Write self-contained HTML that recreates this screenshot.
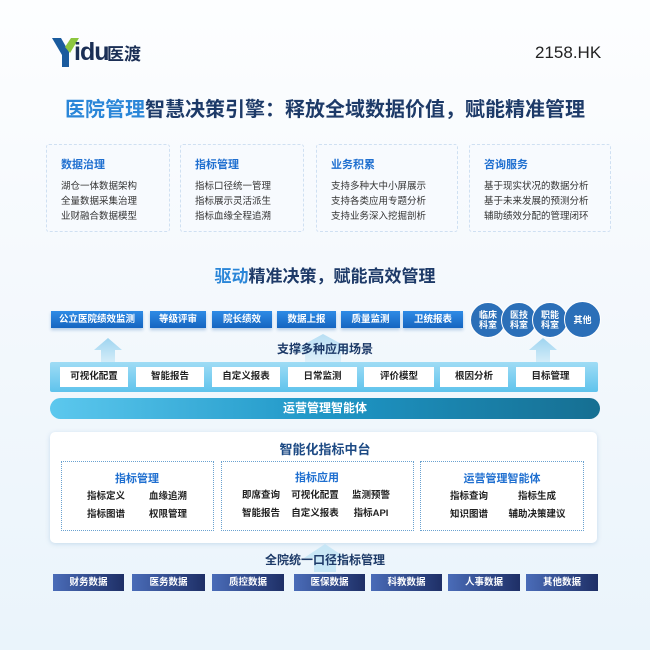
<!DOCTYPE html>
<html><head><meta charset="utf-8"><style>
*{margin:0;padding:0;box-sizing:border-box}
body{width:650px;height:650px;overflow:hidden;font-family:"Liberation Sans","Noto Sans CJK SC",sans-serif;background:linear-gradient(#fdfeff 0%,#f5f9fd 40%,#eaf4fb 100%);position:relative}
.a{position:absolute}
.c{position:absolute;text-align:center;white-space:nowrap}
.card{position:absolute;top:144px;height:88px;border:1px dashed #cfe0f2;background:#f7fafe;border-radius:3px}
.card h4{position:absolute;left:14px;top:11px;font-size:11px;color:#1f6fd0;font-weight:bold}
.card p{position:absolute;left:14px;font-size:9.5px;color:#333}
.tb{position:absolute;top:311px;height:17px;background:linear-gradient(#2f8be6,#1565c0);color:#fff;font-size:9.5px;font-weight:bold;text-align:center;line-height:17px;box-shadow:0 2px 3px rgba(30,100,180,.3)}
.ci{position:absolute;top:302px;width:36px;height:36px;border-radius:50%;background:#2b6fb8;border:1.5px solid #fff;color:#fff;font-size:9px;font-weight:bold;display:flex;align-items:center;justify-content:center;text-align:center;line-height:10px}
.wb{position:absolute;top:367px;height:20px;background:#fff;font-size:9.5px;color:#222;font-weight:bold;text-align:center;line-height:20px}
.sb{position:absolute;top:461px;height:70px;border:1px dotted #6aa2d0;background:#fff}
.it{position:absolute;font-size:9.5px;color:#222;font-weight:bold;transform:translateX(-50%);white-space:nowrap}
.bb{position:absolute;top:574px;height:17px;background:linear-gradient(90deg,#4a6cb8,#1e2f66);color:#fff;font-size:9.5px;font-weight:bold;text-align:center;line-height:17px}
</style></head><body>
<svg class="a" style="left:50px;top:36px" width="32" height="32"><polygon points="2,2 11,2 19,16 19,31 12,31 12,19" fill="#1a5b9e"/><polygon points="21,2 29,2 20,17 15,11" fill="#8cc63f"/></svg>
<div class="a" style="left:74px;top:36px;font-size:25px;font-weight:bold;color:#1b2f55;letter-spacing:-1px;line-height:32px">idu</div>
<div class="a" style="left:107px;top:44px;font-size:17px;font-weight:bold;color:#1b2f55;line-height:22px">医渡</div>
<div class="a" style="left:535px;top:43px;font-size:17px;color:#222;line-height:20px">2158.HK</div>
<div class="c" style="left:0;width:650px;top:97px;font-size:20px;font-weight:bold;color:#1d3a68;line-height:26px"><span style="color:#2a86d8">医院管理</span>智慧决策引擎：释放全域数据价值，赋能精准管理</div>

<div class="card" style="left:46px;width:124px"><h4>数据治理</h4><p style="top:33px">湖仓一体数据架构</p><p style="top:48px">全量数据采集治理</p><p style="top:63px">业财融合数据模型</p></div>
<div class="card" style="left:180px;width:124px"><h4>指标管理</h4><p style="top:33px">指标口径统一管理</p><p style="top:48px">指标展示灵活派生</p><p style="top:63px">指标血缘全程追溯</p></div>
<div class="card" style="left:316px;width:142px"><h4>业务积累</h4><p style="top:33px">支持多种大中小屏展示</p><p style="top:48px">支持各类应用专题分析</p><p style="top:63px">支持业务深入挖掘剖析</p></div>
<div class="card" style="left:469px;width:142px"><h4>咨询服务</h4><p style="top:33px">基于现实状况的数据分析</p><p style="top:48px">基于未来发展的预测分析</p><p style="top:63px">辅助绩效分配的管理闭环</p></div>

<div class="c" style="left:0;width:650px;top:266px;font-size:17px;font-weight:bold;color:#1d3a68;line-height:22px"><span style="color:#2a86d8">驱动</span>精准决策，赋能高效管理</div>

<div class="tb" style="left:51px;width:92px">公立医院绩效监测</div>
<div class="tb" style="left:150px;width:56px">等级评审</div>
<div class="tb" style="left:212px;width:60px">院长绩效</div>
<div class="tb" style="left:277px;width:59px">数据上报</div>
<div class="tb" style="left:341px;width:59px">质量监测</div>
<div class="tb" style="left:403px;width:60px">卫统报表</div>
<div class="ci" style="left:470px">临床<br>科室</div>
<div class="ci" style="left:501px">医技<br>科室</div>
<div class="ci" style="left:532px">职能<br>科室</div>
<div class="ci" style="left:564px;width:37px;height:37px;top:301px">其他</div>

<svg class="a" style="left:0;top:330px" width="650" height="35">
<defs><linearGradient id="ag" x1="0" y1="0" x2="0" y2="1"><stop offset="0" stop-color="#9fd4f0"/><stop offset="1" stop-color="#d8eef9"/></linearGradient></defs>
<polygon points="108,8 94,20 101,20 101,34 115,34 115,20 122,20" fill="url(#ag)"/>
<polygon points="543,8 529,20 536,20 536,34 550,34 550,20 557,20" fill="url(#ag)"/>
<polygon points="323,4 290,22 305,22 305,34 341,34 341,22 356,22" fill="url(#ag)" opacity=".7"/>
</svg>
<div class="c" style="left:0;width:650px;top:340px;font-size:12px;font-weight:bold;color:#1d3a68">支撑多种应用场景</div>

<div class="a" style="left:50px;top:362px;width:548px;height:30px;background:linear-gradient(#9fdcf5,#5fc3ec);border-radius:2px"></div>
<div class="wb" style="left:60px;width:68px">可视化配置</div>
<div class="wb" style="left:136px;width:68px">智能报告</div>
<div class="wb" style="left:212px;width:68px">自定义报表</div>
<div class="wb" style="left:288px;width:69px">日常监测</div>
<div class="wb" style="left:364px;width:70px">评价模型</div>
<div class="wb" style="left:440px;width:68px">根因分析</div>
<div class="wb" style="left:516px;width:69px">目标管理</div>

<div class="a" style="left:50px;top:398px;width:550px;height:21px;border-radius:11px;background:linear-gradient(90deg,#5cc8ee,#1e96c6 50%,#166f92);color:#fff;font-size:12px;font-weight:bold;text-align:center;line-height:21px">运营管理智能体</div>

<div class="a" style="left:50px;top:432px;width:547px;height:111px;background:#fff;border-radius:5px;box-shadow:0 1px 5px rgba(80,140,190,.25)"></div>
<div class="c" style="left:0;width:650px;top:439px;font-size:13px;font-weight:bold;color:#1d4a84">智能化指标中台</div>
<div class="sb" style="left:61px;width:153px"></div>
<div class="sb" style="left:221px;width:193px"></div>
<div class="sb" style="left:420px;width:164px"></div>
<div class="it" style="left:137px;top:470px;color:#1f6fd0;font-size:11px">指标管理</div>
<div class="it" style="left:317px;top:469px;color:#1f6fd0;font-size:11px">指标应用</div>
<div class="it" style="left:502px;top:470px;color:#1f6fd0;font-size:11px">运营管理智能体</div>
<div class="it" style="left:106px;top:488px">指标定义</div><div class="it" style="left:168px;top:488px">血缘追溯</div>
<div class="it" style="left:106px;top:506px">指标图谱</div><div class="it" style="left:168px;top:506px">权限管理</div>
<div class="it" style="left:261px;top:487px">即席查询</div><div class="it" style="left:315px;top:487px">可视化配置</div><div class="it" style="left:371px;top:487px">监测预警</div>
<div class="it" style="left:261px;top:505px">智能报告</div><div class="it" style="left:315px;top:505px">自定义报表</div><div class="it" style="left:371px;top:505px">指标API</div>
<div class="it" style="left:469px;top:488px">指标查询</div><div class="it" style="left:537px;top:488px">指标生成</div>
<div class="it" style="left:469px;top:506px">知识图谱</div><div class="it" style="left:537px;top:506px">辅助决策建议</div>

<svg class="a" style="left:290px;top:542px" width="70" height="30"><polygon points="35,2 14,16 24,16 24,30 46,30 46,16 56,16" fill="#bfe3f5" opacity=".8"/></svg>
<div class="c" style="left:0;width:650px;top:551px;font-size:12px;font-weight:bold;color:#1d3a68">全院统一口径指标管理</div>

<div class="bb" style="left:53px;width:71px">财务数据</div>
<div class="bb" style="left:132px;width:73px">医务数据</div>
<div class="bb" style="left:212px;width:72px">质控数据</div>
<div class="bb" style="left:294px;width:71px">医保数据</div>
<div class="bb" style="left:371px;width:71px">科教数据</div>
<div class="bb" style="left:448px;width:72px">人事数据</div>
<div class="bb" style="left:526px;width:72px">其他数据</div>
</body></html>
